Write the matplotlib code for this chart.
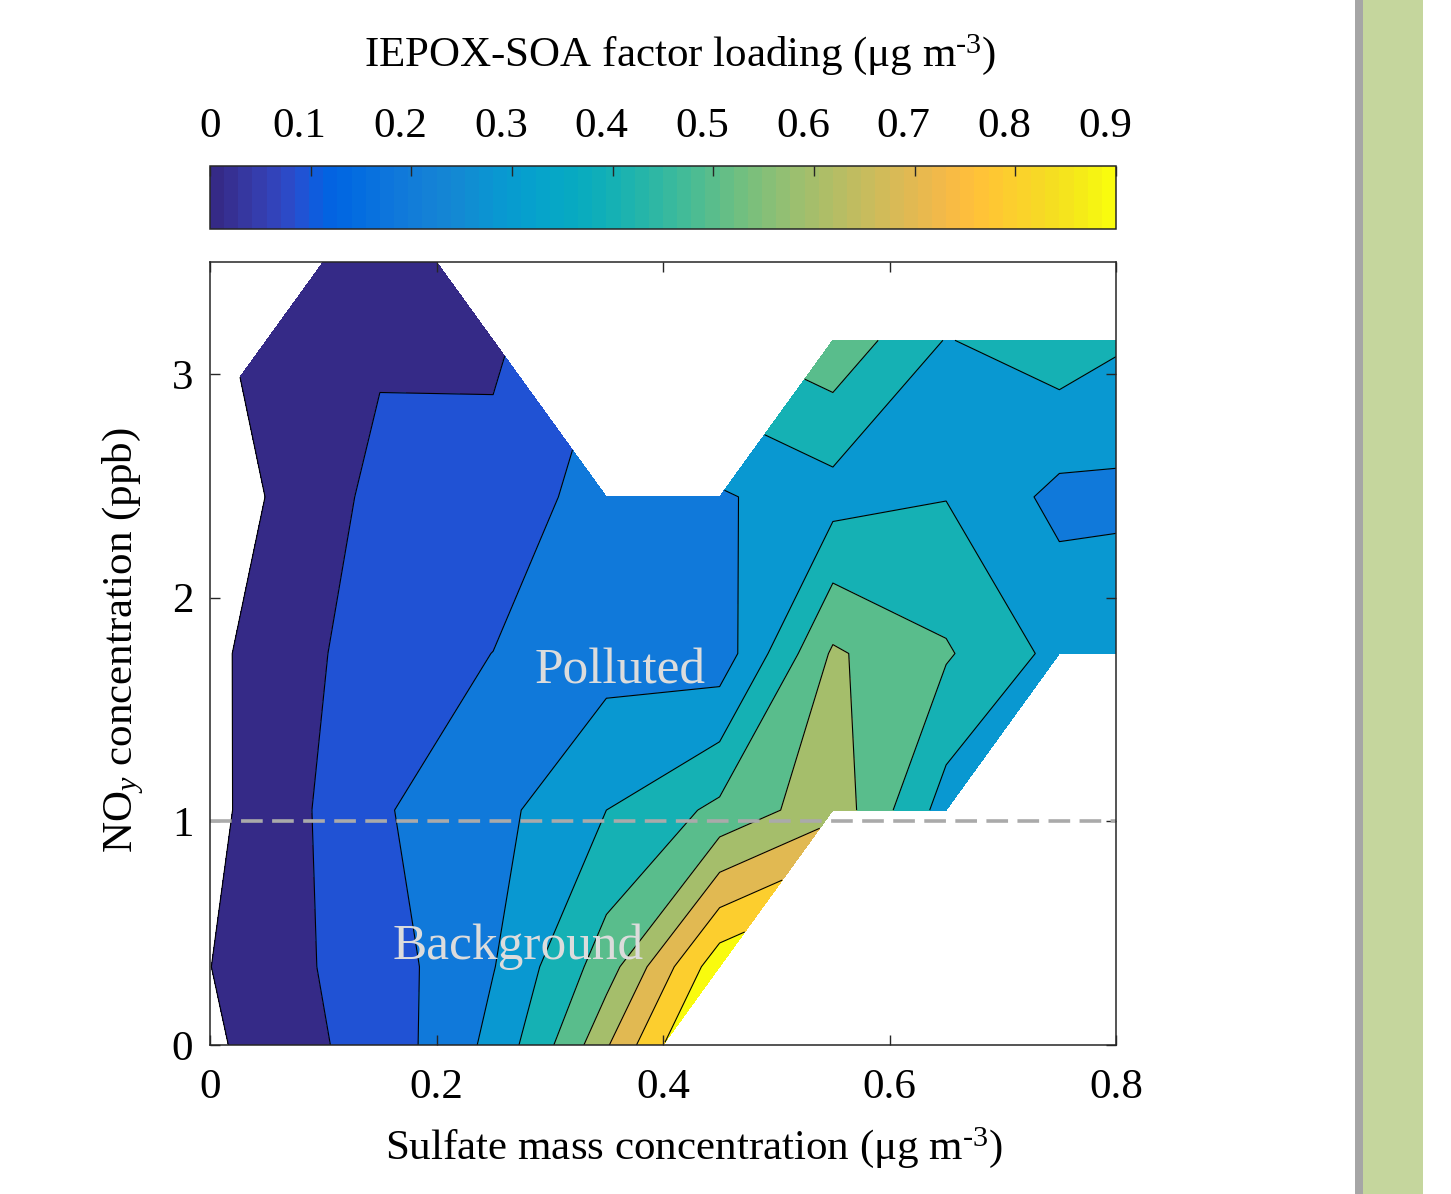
import numpy as np
import matplotlib
matplotlib.use('Agg')
import matplotlib.pyplot as plt
from matplotlib.colors import ListedColormap, Normalize
from matplotlib.cm import ScalarMappable
from matplotlib.patches import Rectangle
from matplotlib.transforms import offset_copy

plt.rcParams['font.family'] = ['Liberation Serif', 'DejaVu Serif']
plt.rcParams['mathtext.fontset'] = 'custom'
plt.rcParams['mathtext.rm'] = 'Liberation Serif'
plt.rcParams['mathtext.it'] = 'Liberation Serif:italic'

nan = np.nan

# bin centres (grid nodes of the contour map)
sulfate = [-0.05, 0.05, 0.15, 0.25, 0.35, 0.45, 0.55, 0.65, 0.75, 0.85]
noy = [-0.35, 0.35, 1.05, 1.75, 2.45, 3.15, 3.85]

# IEPOX-SOA factor loading per NOy bin (one list per row, along sulfate)
load_noy_m035 = [-0.31, 0.072, 0.113, 0.38, 0.828, nan, nan, nan, nan, nan]
load_noy_035 = [-0.064, 0.061, 0.149, 0.295, 0.55, 0.967, nan, nan, nan, nan]
load_noy_105 = [-0.093, 0.040, 0.190, 0.267, 0.400, 0.524, 0.665, 0.355, nan, nan]
load_noy_175 = [-0.094, 0.041, 0.150, 0.201, 0.260, 0.240, 0.6145, 0.511, 0.370, 0.400]
load_noy_245 = [-0.14, 0.002, 0.128, 0.132, 0.250, 0.288, 0.360, 0.397, 0.272, 0.278]
load_noy_315 = [nan, 0.043, 0.086, 0.083, nan, nan, 0.570, 0.395, 0.459, 0.380]
load_noy_385 = [nan, nan, 0.050, nan, nan, nan, nan, nan, nan, nan]

levels = [0, 0.1, 0.2, 0.3, 0.4, 0.5, 0.6, 0.7, 0.8, 0.9]
cbar_ticks = [0, 0.1, 0.2, 0.3, 0.4, 0.5, 0.6, 0.7, 0.8, 0.9]
cbar_labels = ['0', '0.1', '0.2', '0.3', '0.4', '0.5', '0.6', '0.7', '0.8', '0.9']
x_ticks = [0, 0.2, 0.4, 0.6, 0.8]
x_labels = ['0', '0.2', '0.4', '0.6', '0.8']
y_ticks = [0, 1, 2, 3]

# matlab parula, 64 entries
parula = [
    [0.2081, 0.1663, 0.5292], [0.2116, 0.1898, 0.5777], [0.2123, 0.2138, 0.6270],
    [0.2081, 0.2386, 0.6771], [0.1959, 0.2645, 0.7279], [0.1707, 0.2919, 0.7792],
    [0.1253, 0.3242, 0.8303], [0.0591, 0.3598, 0.8683], [0.0117, 0.3875, 0.8820],
    [0.0060, 0.4086, 0.8828], [0.0165, 0.4266, 0.8786], [0.0329, 0.4430, 0.8720],
    [0.0498, 0.4586, 0.8641], [0.0629, 0.4737, 0.8554], [0.0723, 0.4887, 0.8467],
    [0.0779, 0.5040, 0.8384], [0.0793, 0.5200, 0.8312], [0.0749, 0.5375, 0.8263],
    [0.0641, 0.5570, 0.8240], [0.0488, 0.5772, 0.8228], [0.0343, 0.5966, 0.8199],
    [0.0265, 0.6137, 0.8135], [0.0239, 0.6287, 0.8038], [0.0231, 0.6418, 0.7913],
    [0.0228, 0.6535, 0.7768], [0.0267, 0.6642, 0.7607], [0.0384, 0.6743, 0.7436],
    [0.0590, 0.6838, 0.7254], [0.0843, 0.6928, 0.7062], [0.1133, 0.7015, 0.6859],
    [0.1453, 0.7098, 0.6646], [0.1801, 0.7177, 0.6424], [0.2178, 0.7250, 0.6193],
    [0.2586, 0.7317, 0.5954], [0.3022, 0.7376, 0.5712], [0.3482, 0.7424, 0.5473],
    [0.3953, 0.7459, 0.5244], [0.4420, 0.7481, 0.5033], [0.4871, 0.7491, 0.4840],
    [0.5300, 0.7491, 0.4661], [0.5709, 0.7485, 0.4494], [0.6099, 0.7473, 0.4337],
    [0.6473, 0.7456, 0.4188], [0.6834, 0.7435, 0.4044], [0.7184, 0.7411, 0.3905],
    [0.7525, 0.7384, 0.3768], [0.7858, 0.7356, 0.3633], [0.8185, 0.7327, 0.3498],
    [0.8507, 0.7299, 0.3360], [0.8824, 0.7274, 0.3217], [0.9139, 0.7258, 0.3063],
    [0.9450, 0.7261, 0.2886], [0.9739, 0.7314, 0.2666], [0.9938, 0.7455, 0.2403],
    [0.9990, 0.7653, 0.2164], [0.9955, 0.7861, 0.1967], [0.9880, 0.8066, 0.1794],
    [0.9789, 0.8271, 0.1633], [0.9697, 0.8481, 0.1475], [0.9626, 0.8705, 0.1309],
    [0.9589, 0.8949, 0.1132], [0.9598, 0.9218, 0.0948], [0.9661, 0.9514, 0.0755],
    [0.9763, 0.9831, 0.0538],
]
cmap = ListedColormap(parula)
band_colors = ['#352A87', '#2052D4', '#1079DA', '#0998D1', '#15B1B4',
               '#59BD8C', '#A5BE6B', '#E1B952', '#FCCE2E', '#F9FB0E']

Z = np.ma.masked_invalid(np.array([load_noy_m035, load_noy_035, load_noy_105,
                                   load_noy_175, load_noy_245, load_noy_315,
                                   load_noy_385]))

W, H = 1451, 1194
FS = 31
fig = plt.figure(figsize=(W / 100, H / 100), dpi=100)

# page strip on the right of the screenshot
fig.patches.append(Rectangle((1355 / W, 0), 8 / W, 1, transform=fig.transFigure,
                             facecolor='#a6a6a6', edgecolor='none'))
fig.patches.append(Rectangle((1363 / W, 0), 60 / W, 1, transform=fig.transFigure,
                             facecolor='#c5d69d', edgecolor='none'))

ax = fig.add_axes([210 / W, 1 - 1045 / H, 906 / W, 783 / H])
ax.contourf(sulfate, noy, Z, levels=levels + [1.0], colors=band_colors, corner_mask=True)
ax.contour(sulfate, noy, Z, levels=levels, colors='k', linewidths=0.8, corner_mask=True)
ax.axhline(1, color='#aaaaaa', lw=2.6, ls=(0, (6, 2.6)))

ax.set_xlim(0, 0.8)
ax.set_ylim(0, 3.5)
ax.set_xticks(x_ticks)
ax.set_xticklabels(x_labels)
ax.set_yticks(y_ticks)
ax.tick_params(direction='in', top=True, right=True, length=7, width=1,
               labelsize=FS, colors='#262626', labelcolor='black')
ax.tick_params(axis='x', pad=17)
ax.tick_params(axis='y', pad=12)
for s in ax.spines.values():
    s.set_color('#262626')
    s.set_linewidth(1.1)

ax.text(0.362, 1.67, 'Polluted', color='#dcdcdc', fontsize=37, ha='center', va='center')
ax.text(0.272, 0.44, 'Background', color='#dcdcdc', fontsize=37, ha='center', va='center')

fig.text(694 / W, 1 - 1148 / H, r'Sulfate mass concentration (μg m$^{\text{-3}}$)',
         fontsize=FS, ha='center', va='center')
fig.text(123 / W, 1 - 640 / H, r'NO$_{y}$ concentration (ppb)', fontsize=FS,
         ha='center', va='center', rotation=90)

cax = fig.add_axes([210 / W, 1 - 229 / H, 906 / W, 63 / H])
cb = fig.colorbar(ScalarMappable(norm=Normalize(0, 0.9), cmap=cmap), cax=cax,
                  orientation='horizontal', ticks=cbar_ticks)
cax.tick_params(direction='in', top=True, bottom=False, labeltop=False, labelbottom=False,
                length=7, width=1, colors='#262626')
lab_trans = offset_copy(cax.get_xaxis_transform(), fig=fig, y=20, units='dots')
for v, lab in zip(cbar_ticks, cbar_labels):
    shift = 0.0 if v == 0 else 0.011
    cax.text(v - shift, 1.0, lab, transform=lab_trans,
             fontsize=FS, ha='center', va='bottom')
cb.outline.set_edgecolor('#262626')
cb.outline.set_linewidth(1.1)
fig.text(680 / W, 1 - 55 / H, r'IEPOX-SOA factor loading (μg m$^{\text{-3}}$)',
         fontsize=FS, ha='center', va='center')

fig.savefig('out.png', dpi=100)
